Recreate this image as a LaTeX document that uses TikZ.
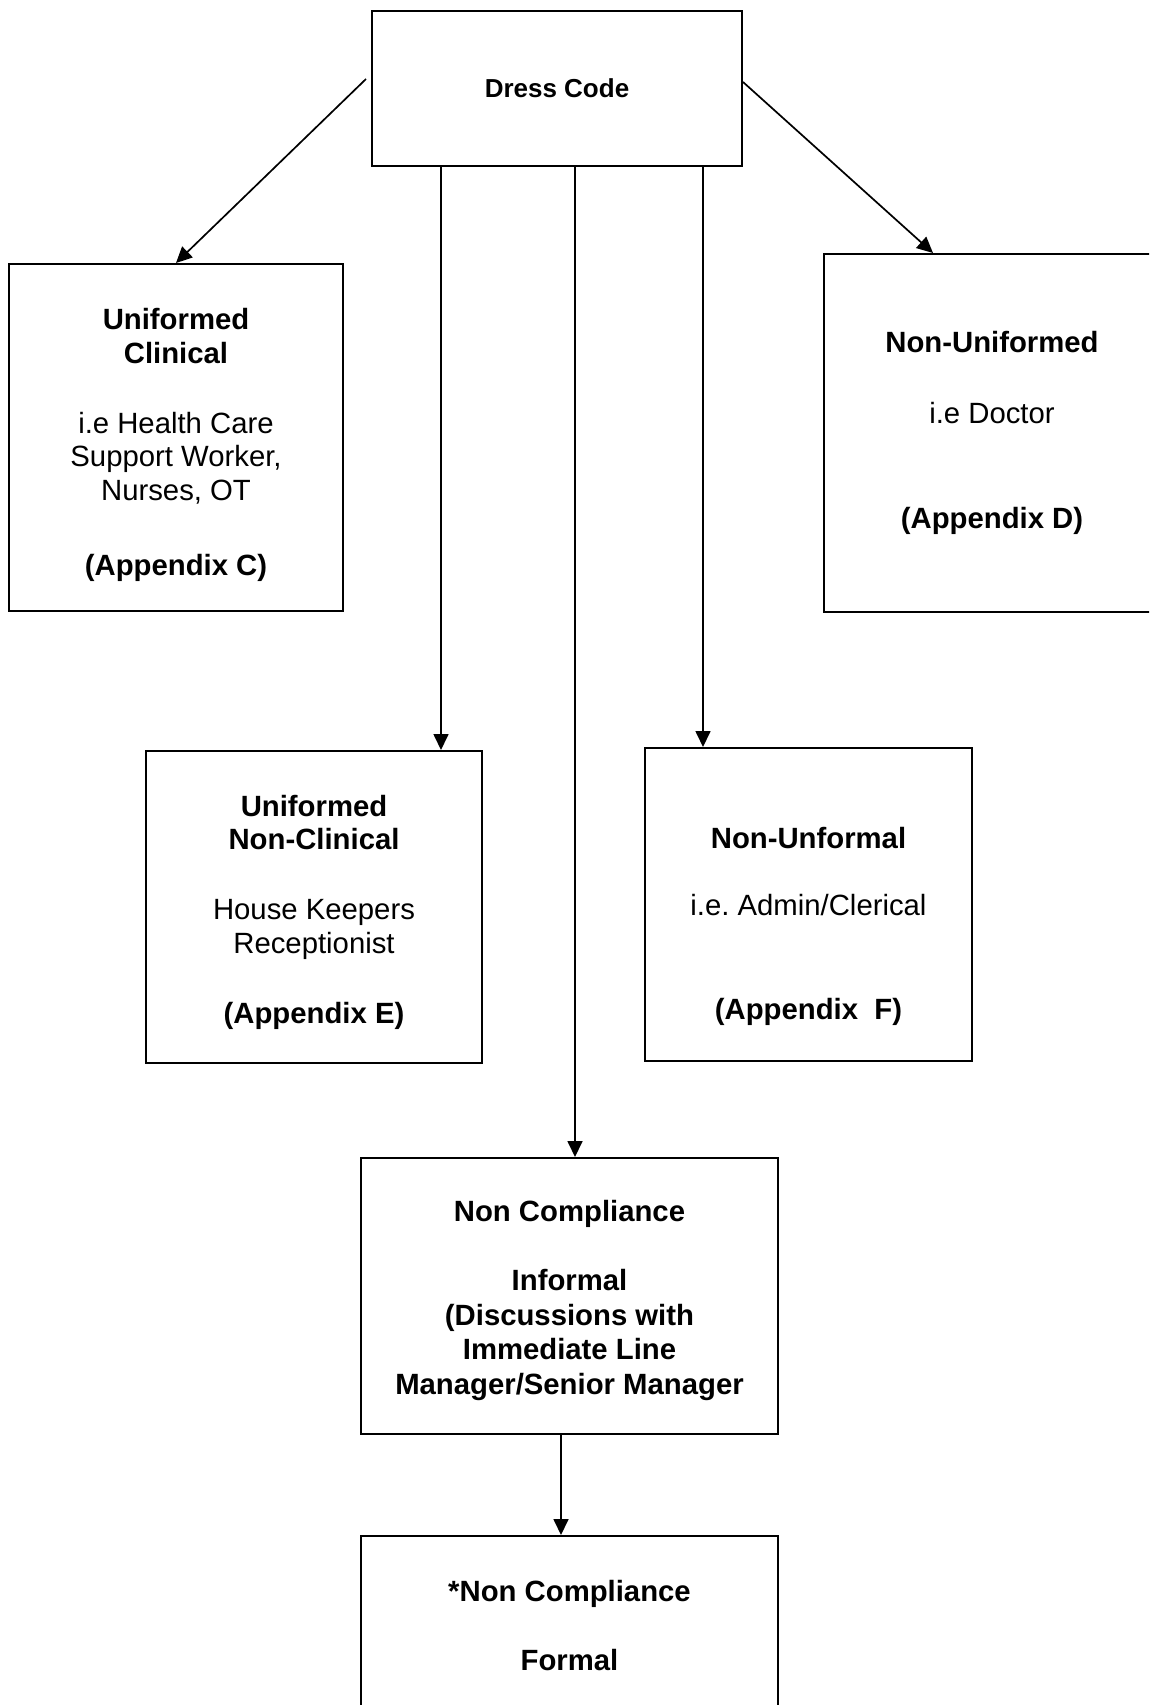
\documentclass[tikz,border=0pt]{standalone}
\usepackage{fontspec}
\setmainfont{Liberation Sans}
\usetikzlibrary{arrows.meta}
\begin{document}
\begin{tikzpicture}[x=1pt, y=-1pt,
  box/.style={draw, line width=2pt, align=center, inner sep=0pt, font=\fontsize{29.3}{33.7}\selectfont},
  boldbox/.style={box, font=\fontsize{29.3}{34.5}\selectfont\bfseries},
  arr/.style={line width=1.7pt, -{Triangle[length=16pt, width=15pt]}}]
\clip (0,0) rectangle (1149,1705);
\node[box, minimum width=370pt, minimum height=155pt, font=\fontsize{26}{30}\selectfont\bfseries] (Dress) at (557,88.5) {Dress Code};
\node[box, minimum width=334pt, minimum height=347pt] (Clin) at (176,437.5) {\rule{0pt}{36pt}\textbf{Uniformed}\\\textbf{Clinical}\\[36pt]i.e Health Care\\Support Worker,\\Nurses, OT\\[41pt]\textbf{(Appendix C)}};
\node[box, minimum width=336pt, minimum height=358pt] (NonUni) at (992,433) {\textbf{Non-Uniformed}\\[37pt]i.e Doctor\\[71pt]\textbf{(Appendix D)}};
\node[box, minimum width=336pt, minimum height=312pt] (UniNC) at (314,907) {\rule{0pt}{32pt}\textbf{Uniformed}\\\textbf{Non-Clinical}\\[36pt]House Keepers\\Receptionist\\[37pt]\textbf{(Appendix E)}};
\node[box, minimum width=327pt, minimum height=313pt] (NonUnf) at (808.5,904.5) {\rule{0pt}{64.7pt}\textbf{Non-Unformal}\\[34pt]i.e.\ Admin/Clerical\\[70pt]\textbf{(Appendix\ \ F)}};
\node[boldbox, minimum width=417pt, minimum height=276pt] (NonComp) at (569.5,1296) {\rule{0pt}{30pt}Non Compliance\\[35pt]Informal\\(Discussions with\\Immediate Line\\Manager/Senior Manager};
\node[boldbox, minimum width=417pt, minimum height=179pt] (Formal) at (569.5,1625.5) {*Non Compliance\\[35pt]Formal};
\draw[arr] ([xshift=-5pt, yshift=9.5pt]Dress.west) -- (Clin.north);
\draw[arr] ([yshift=6.5pt]Dress.east) -- ([xshift=-59pt]NonUni.north);
\draw[arr] ([xshift=-116pt]Dress.south) -- ([xshift=127pt]UniNC.north);
\draw[arr] ([xshift=18pt]Dress.south) -- ([xshift=5.5pt]NonComp.north);
\draw[arr] ([xshift=146pt]Dress.south) -- ([xshift=-105.5pt]NonUnf.north);
\draw[arr] ([xshift=-8.5pt]NonComp.south) -- ([xshift=-8.5pt]Formal.north);
\end{tikzpicture}
\end{document}
